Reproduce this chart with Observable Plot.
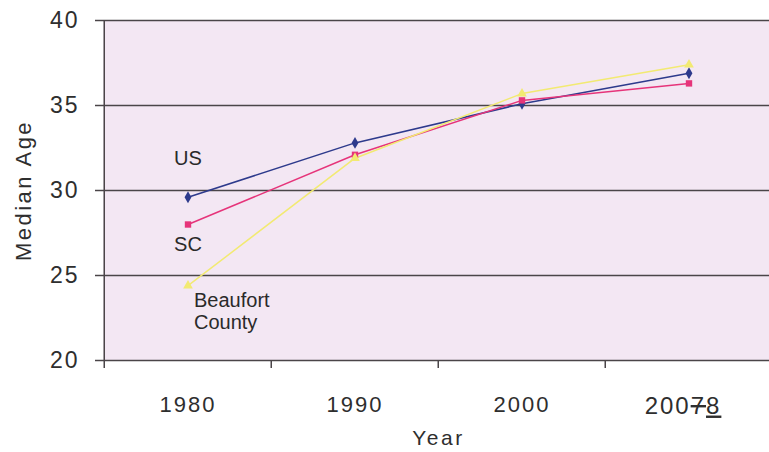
<!DOCTYPE html>
<html>
<head>
<meta charset="utf-8">
<script src="https://cdn.jsdelivr.net/npm/d3@7"></script>
<script src="https://cdn.jsdelivr.net/npm/@observablehq/plot@0.6"></script>
<style>
  html, body { margin: 0; padding: 0; background: #ffffff; }
  #chart svg { display: block; font-family: "Liberation Sans", Arial, sans-serif; }
  g[aria-label="y-axis tick label"] { font-size: 23px; letter-spacing: 2px; }
  g[aria-label="x-axis tick label"] { font-size: 22px; letter-spacing: 2px; }
  g[aria-label="y-axis label"] { font-size: 22px; letter-spacing: 2.5px; }
  g[aria-label="x-axis label"] { font-size: 21px; letter-spacing: 2.5px; }
</style>
</head>
<body>
<div id="chart"></div>
<script>
// ---- data ----
const years = ["1980", "1990", "2000", "20078"];
const usAge = [29.6, 32.8, 35.1, 36.9];
const scAge = [28.0, 32.1, 35.3, 36.3];
const beaufortAge = [24.4, 31.9, 35.7, 37.4];
const seriesNames = ["US", "SC", "Beaufort County"];
const seriesLabels = ["US", "SC", "Beaufort\nCounty"];
const yTicks = [20, 25, 30, 35, 40];

const seriesValues = [usAge, scAge, beaufortAge];
const rows = [];
seriesNames.forEach((s, si) => years.forEach((y, i) => rows.push({series: s, year: y, age: seriesValues[si][i]})));
const colors = {"US": "#2d3a8c", "SC": "#e6347a", "Beaufort County": "#f2ea72"};
const symbols = {"US": "diamond", "SC": "square", "Beaufort County": "triangle"};

const W = 769, H = 452, ML = 103, MR = -4;
const bw = (W - ML - MR) / years.length;

const firstPts = seriesNames.map((s, si) => ({series: s, label: seriesLabels[si], year: years[0], age: seriesValues[si][0]}));

const chart = Plot.plot({
  width: W,
  height: H,
  marginLeft: ML,
  marginRight: MR,
  marginTop: 20,
  marginBottom: 92,
  style: {fontFamily: "Liberation Sans, Arial, sans-serif", color: "#2e2e2e", background: "#ffffff"},
  x: {type: "band", domain: years, padding: 0},
  y: {domain: [20, 40]},
  marks: [
    Plot.frame({fill: "#f3e7f3", stroke: null}),
    Plot.ruleY(yTicks, {stroke: "#4a4548", strokeWidth: 1.5}),
    Plot.ruleX([years[0]], {x: d => d, dx: -bw / 2, stroke: "#4a4548", strokeWidth: 1.5}),
    Plot.axisX({tickSize: 8, dx: -bw / 2, stroke: "#4a4548", strokeWidth: 1.5, tickFormat: () => "", label: null}),
    Plot.axisX({tickSize: 0, tickPadding: 36, fontSize: 22, label: "Year", labelAnchor: "center", labelOffset: 84, labelArrow: "none", tickFormat: d => d}),
    Plot.axisY({ticks: yTicks, tickSize: 8, tickPadding: 16, fontSize: 23, stroke: "#4a4548", strokeWidth: 1.5,
      label: "Median Age", labelAnchor: "center", labelOffset: 88, labelArrow: "none"}),
    Plot.line(rows, {x: "year", y: "age", z: "series", stroke: d => colors[d.series], strokeWidth: 1.5}),
    Plot.dot(rows, {x: "year", y: "age", symbol: d => symbols[d.series], fill: d => colors[d.series], r: 3.6, stroke: null}),
    Plot.text(firstPts.filter(d => d.series === "US"), {x: "year", y: "age", text: "label", dy: -39, fontSize: 20, fill: "#2a2a2a"}),
    Plot.text(firstPts.filter(d => d.series === "SC"), {x: "year", y: "age", text: "label", dy: 20, fontSize: 20, fill: "#2a2a2a"}),
    Plot.text(firstPts.filter(d => d.series === "Beaufort County"), {x: "year", y: "age", text: "label", dx: 6, dy: 6, textAnchor: "start", lineAnchor: "top", lineHeight: 1.1, fontSize: 20, fill: "#2a2a2a"})
  ]
});
document.getElementById("chart").appendChild(chart);

// Special tick label: "2007" with the 7 struck through and an underlined 8
d3.select(chart).selectAll('g[aria-label="x-axis tick label"] text').each(function() {
  const t = d3.select(this);
  if (t.text() === years[3]) {
    t.text(null).attr("font-size", 24).attr("dx", -6);
    t.append("tspan").text("200");
    t.append("tspan").text("7").style("text-decoration", "line-through");
    t.append("tspan").text("8").style("text-decoration", "underline");
  }
});
</script>
</body>
</html>
